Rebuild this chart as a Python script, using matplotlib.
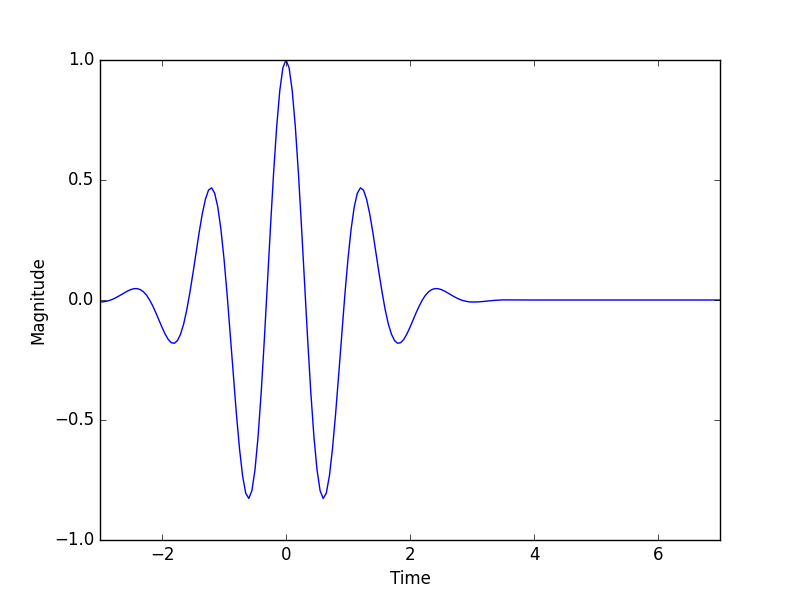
import numpy as np
import matplotlib
matplotlib.use("Agg")
import matplotlib.pyplot as plt

magnitude = [
    -0.0084, -0.0075, -0.0053, -0.0020, 0.0027, 0.0087, 0.0157, 0.0232, 0.0309, 0.0380,
    0.0438, 0.0473, 0.0474, 0.0433, 0.0343, 0.0202, 0.0004, -0.0243, -0.0524, -0.0829,
    -0.1136, -0.1416, -0.1640, -0.1779, -0.1803, -0.1688, -0.1419, -0.0994, -0.0405, 0.0320,
    0.1125, 0.1982, 0.2829, 0.3594, 0.4195, 0.4578, 0.4674, 0.4446, 0.3870, 0.2951,
    0.1721, 0.0239, -0.1406, -0.3108, -0.4746, -0.6194, -0.7330, -0.8048, -0.8269, -0.7946,
    -0.7070, -0.5677, -0.3842, -0.1677, 0.0676, 0.3056, 0.5296, 0.7235, 0.8732, 0.9677,
    1.0000,
    0.9677, 0.8732, 0.7235, 0.5296, 0.3056, 0.0676, -0.1677, -0.3842, -0.5677, -0.7070,
    -0.7946, -0.8269, -0.8048, -0.7330, -0.6194, -0.4746, -0.3108, -0.1406, 0.0239, 0.1721,
    0.2951, 0.3870, 0.4446, 0.4674, 0.4578, 0.4195, 0.3594, 0.2829, 0.1982, 0.1125,
    0.0320, -0.0405, -0.0994, -0.1419, -0.1688, -0.1803, -0.1779, -0.1640, -0.1416, -0.1136,
    -0.0829, -0.0524, -0.0243, 0.0004, 0.0202, 0.0343, 0.0433, 0.0474, 0.0473, 0.0438,
    0.0380, 0.0309, 0.0232, 0.0157, 0.0087, 0.0027, -0.0020, -0.0053, -0.0075, -0.0084,
]
time = list(np.linspace(-3, 3, 121))

# flat tail
tail_time = [3.1, 3.2, 3.3, 3.4, 3.5, 4.0, 5.0, 6.0, 7.0]
tail_mag = [-0.0079, -0.0057, -0.0030, -0.0009, 0.0004, 0.0, 0.0, 0.0, 0.0]

plt.style.use("classic")
fig = plt.figure(figsize=(8, 6), dpi=100, facecolor="white")
ax = fig.add_subplot(111)

ax.plot(time + tail_time, magnitude + tail_mag, color="b", linewidth=1)

ax.set_xlim(-3, 7)
ax.set_ylim(-1, 1)
ax.set_yticks([-1.0, -0.5, 0.0, 0.5, 1.0])
ax.set_xticks([-2, 0, 2, 4, 6])
ax.set_xlabel("Time")
ax.set_ylabel("Magnitude")

fig.savefig("out.png", dpi=100, facecolor="white")
